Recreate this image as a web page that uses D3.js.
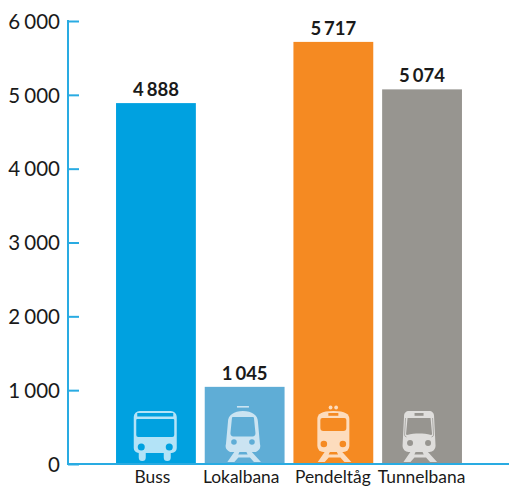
<!DOCTYPE html>
<html><head><meta charset="utf-8">
<script src="https://cdn.jsdelivr.net/npm/d3@7"></script>
<style>html,body{margin:0;padding:0;background:#fff}svg{display:block}text{font-family:Lato,sans-serif}</style>
</head><body><div id="c"></div>
<script>
const categories = ["Buss","Lokalbana","Pendeltåg","Tunnelbana"];
const values = [4888,1045,5717,5074];
const valueLabels = ["4 888","1 045","5 717","5 074"];
const colors = ["#00a1e0","#5fadd6","#f58a22","#979590"];
const iconColors = ["#b3e3f7","#cbe4f2","#fddcbd","#dfdedc"];
const iconKinds = ["bus","light","commuter","metro"];
const yTicks = [0,1000,2000,3000,4000,5000,6000];
const yTickLabels = ["0","1 000","2 000","3 000","4 000","5 000","6 000"];
const axisColor = "#29abe2";

const svg = d3.select("#c").append("svg").attr("width",509).attr("height",486);
const y = d3.scaleLinear().domain([0,6000]).range([464,21]);
const x = d3.scaleBand().domain(categories).range([111.6,466.4]).paddingInner(0.1).paddingOuter(0.05);

svg.append("g").selectAll("rect").data(values).join("rect")
  .attr("x",(d,i)=>x(categories[i])).attr("y",d=>y(d))
  .attr("width",x.bandwidth()).attr("height",d=>y(0)-y(d))
  .attr("fill",(d,i)=>colors[i]);

const yAxis = d3.axisLeft(y).tickValues(yTicks).tickFormat((d,i)=>yTickLabels[i]).tickSize(0).tickPadding(8);
const gy = svg.append("g").attr("transform","translate(68,0)").call(yAxis);
gy.select(".domain").attr("stroke",axisColor).attr("stroke-width",2).attr("d","M0,20V465");
gy.selectAll(".tick line").attr("x1",0).attr("x2",11).attr("stroke",axisColor).attr("stroke-width",2);
gy.selectAll(".tick text").attr("fill","#1a1a1a").attr("dy","0.35em")
  .style("font-size","20.5px").style("font-family","Lato,sans-serif").style("word-spacing","-1px");

const xAxis = d3.axisBottom(x).tickSize(0).tickPadding(0);
const gx = svg.append("g").attr("transform","translate(0,464)").call(xAxis);
gx.select(".domain").attr("stroke",axisColor).attr("stroke-width",2).attr("d","M68,0H509");
const labelNudge = [-3.5,-3.5,-0.5,-0.5];
gx.selectAll(".tick text").attr("fill","#1a1a1a").attr("x",(d,i)=>labelNudge[i]).attr("y",19).attr("dy",0)
  .style("font-size","17.4px").style("font-family","Lato,sans-serif");

svg.append("g").selectAll("text").data(values).join("text")
  .attr("x",(d,i)=>x(categories[i])+x.bandwidth()/2).attr("y",d=>y(d)-7)
  .attr("text-anchor","middle").attr("fill","#1a1a1a")
  .style("font-size","18.5px").style("font-weight","700").style("word-spacing","-1.5px")
  .text((d,i)=>valueLabels[i]);

// Pictograms: drawn around each band's centre, 0 at the axis
const iconShift = {bus:-0.7,light:-1.7,commuter:0,metro:-3};
function drawIcon(g,kind,c,bar){
  const fill=(d)=>g.append("path").attr("d",d).attr("fill",c);
  const hole=(d)=>g.append("path").attr("d",d).attr("fill",bar);
  const dot=(cx,cy,r,col)=>g.append("circle").attr("cx",cx).attr("cy",cy).attr("r",r).attr("fill",col);
  if(kind==="bus"){
    fill("M-21.5,-47a6,6 0 0 1 6,-6h31a6,6 0 0 1 6,6v31a5,5 0 0 1 -5,5h-1v4.5a3.5,3.5 0 0 1 -7,0v-4.5h-18v4.5a3.5,3.5 0 0 1 -7,0v-4.5a5,5 0 0 1 -5,-5z");
    hole("M-18,-51h36v3.5h-36z");
    hole("M-19,-44a1,1 0 0 1 1,-1h36a1,1 0 0 1 1,1v15a2,2 0 0 1 -2,2h-34a2,2 0 0 1 -2,-2z");
    dot(-14,-17,3.5,bar); dot(14,-17,3.5,bar);
    return;
  }
  fill("M-8,-13h5l-1.7,3.5h9.4l-1.7,-3.5h5l10,11h-7l-4,-4.5h-11.6l-4,4.5h-7z");
  if(kind==="light"){
    fill("M-6,-58h12v1.6h-12z");
    fill("M-15,-42c0,-7 6,-11 15,-11s15,4 15,11l2,22a6,6 0 0 1 -6,8h-22a6,6 0 0 1 -6,-8z");
    hole("M-10,-47h20a1,1 0 0 1 1,1l1.5,15a3,3 0 0 1 -3,3.5h-19a3,3 0 0 1 -3,-3.5l1.5,-15a1,1 0 0 1 1,-1z");
    dot(-9,-22,2.8,bar); dot(9,-22,2.8,bar);
  } else if(kind==="commuter"){
    dot(-2.8,-56.5,1.9,c); dot(2.8,-56.5,1.9,c);
    fill("M-16,-45c0,-5 4,-8 16,-8s16,3 16,8v27a6,6 0 0 1 -6,6h-20a6,6 0 0 1 -6,-6z");
    hole("M-5,-51h10v2.8h-10z");
    hole("M-11,-46h22a2,2 0 0 1 2,2v8a3,3 0 0 1 -3,3h-20a3,3 0 0 1 -3,-3v-8a2,2 0 0 1 2,-2z");
    dot(-9.5,-20,3.3,bar); dot(9.5,-20,3.3,bar);
  } else {
    fill("M-15,-48c0,-3 2,-5 5,-5h20c3,0 5,2 5,5l1.5,30a6,6 0 0 1 -6,6h-21a6,6 0 0 1 -6,-6z");
    hole("M-4.5,-51h9v2.8h-9z");
    hole("M-11.5,-46h23l1.5,16a1,1 0 0 1 -1,1c-4,-1.2 -8,-1.5 -12,-1.5s-8,.3 -12,1.5a1,1 0 0 1 -1,-1z");
    g.append("path").attr("d","M-13.5,-46l-1,17q0,1.5 2,2").attr("fill","none").attr("stroke",bar).attr("stroke-width",0.7);
    g.append("path").attr("d","M13.5,-46l1,17q0,1.5 -2,2").attr("fill","none").attr("stroke",bar).attr("stroke-width",0.7);
    dot(-9,-21,3,bar); dot(9,-21,3,bar);
  }
}
categories.forEach((cat,i)=>{
  const k = iconKinds[i];
  const g = svg.append("g").attr("transform",`translate(${x(cat)+x.bandwidth()/2+iconShift[k]},${y(0)})`);
  drawIcon(g,k,iconColors[i],colors[i]);
});
</script></body></html>
